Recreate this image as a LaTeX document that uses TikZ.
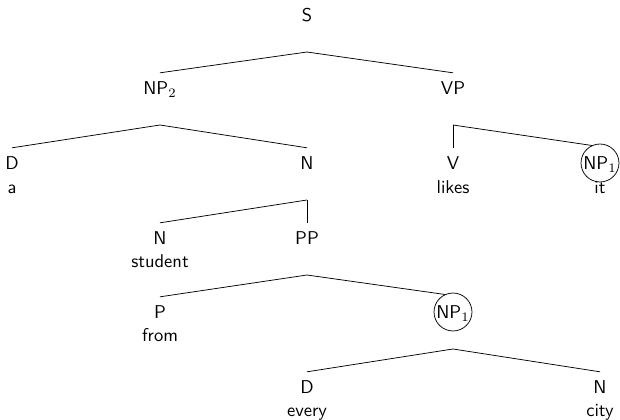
\documentclass[tikz,border=0pt]{standalone}
\usepackage{amsmath}
\usepackage{tikz}

\begin{document}
\begin{tikzpicture}[x=0.54pt, y=-0.54pt,
		cat/.style={inner sep=1pt, minimum height=16pt, text height=6.9pt, text depth=0pt, font=\sffamily},
		catcirc/.style={cat, draw, circle, inner sep=0.5pt, minimum size=20.5pt},
		word/.style={anchor=base, inner sep=0pt, font=\sffamily}]
			\def\cola{12}
			\def\colb{160}
			\def\colc{307}
			\def\cold{453}
			\def\cole{600}
			\def\rowa{15}
			\def\rowb{88}
			\def\rowc{163}
			\def\rowd{238}
			\def\rowe{312}
			\def\rowf{387}
			\def\drop{37}
			\def\wordgap{30}
			
			\useasboundingbox (0,0) rectangle (620,420);
			
			% Category labels
			\node[cat] (s) at (\colc,\rowa) {S};
			\node[cat] (np2) at (\colb,\rowb) {NP$_2$};
			\node[cat] (vp) at (\cold,\rowb) {VP};
			\node[cat] (d1) at (\cola,\rowc) {D};
			\node[cat] (n1) at (\colc,\rowc) {N};
			\node[cat] (v) at (\cold,\rowc) {V};
			\node[catcirc] (np1a) at (\cole,\rowc) {NP$_1$};
			\node[cat] (n2) at (\colb,\rowd) {N};
			\node[cat] (pp) at (\colc,\rowd) {PP};
			\node[cat] (p) at (\colb,\rowe) {P};
			\node[catcirc] (np1b) at (\cold,\rowe) {NP$_1$};
			\node[cat] (d2) at (\colc,\rowf) {D};
			\node[cat] (n3) at (\cole,\rowf) {N};
			
			% Words under the leaves
			\node[word] (wa) at ({\cola},{\rowc+\wordgap}) {a};
			\node[word] (wlikes) at ({\cold},{\rowc+\wordgap}) {likes};
			\node[word] (wit) at ({\cole},{\rowc+\wordgap}) {it};
			\node[word] (wstudent) at ({\colb},{\rowd+\wordgap}) {student};
			\node[word] (wfrom) at ({\colb},{\rowe+\wordgap}) {from};
			\node[word] (wevery) at ({\colc},{\rowf+\wordgap}) {every};
			\node[word] (wcity) at ({\cole},{\rowf+\wordgap}) {city};
			
			% Branch points below each parent
			\coordinate (sA) at ({\colc},{\rowa+\drop});
			\coordinate (np2A) at ({\colb},{\rowb+\drop});
			\coordinate (vpA) at ({\cold},{\rowb+\drop});
			\coordinate (n1A) at ({\colc},{\rowc+\drop});
			\coordinate (ppA) at ({\colc},{\rowd+\drop});
			\coordinate (np1A) at ({\cold},{\rowe+\drop});
			
			% Branches
			\draw (sA) -- (np2.north);
			\draw (sA) -- (vp.north);
			\draw (np2A) -- (d1.north);
			\draw (np2A) -- (n1.north);
			\draw (vpA) -- (v.north);
			\draw (vpA) -- (np1a.115);
			\draw (n1A) -- (n2.north);
			\draw (n1A) -- (pp.north);
			\draw (ppA) -- (p.north);
			\draw (ppA) -- (np1b.115);
			\draw (np1A) -- (d2.north);
			\draw (np1A) -- (n3.north);
		\end{tikzpicture}
\end{document}
